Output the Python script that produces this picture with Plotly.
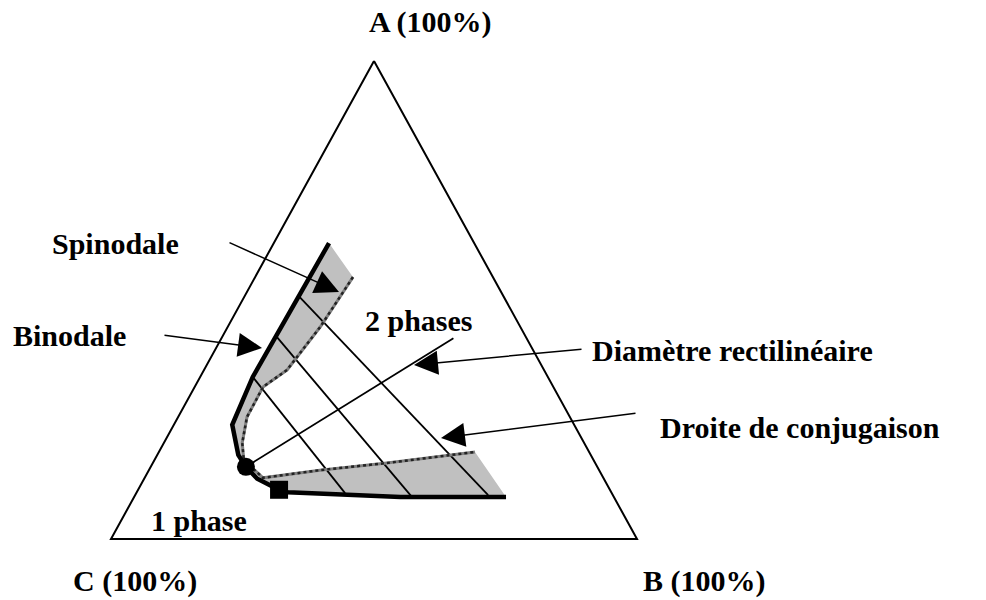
import plotly.graph_objects as go

# ---- Data: ternary compositions in % (A = top, B = bottom right, C = bottom left) ----
vertex_names = ["A (100%)", "B (100%)", "C (100%)"]
triangle_A = [100, 0, 0, 100]
triangle_B = [0, 100, 0, 0]

# Binodal curve (top branch -> plait point -> bottom branch)
binodal_A = [61.9, 50.8, 42.5, 33.9, 23.9, 17.6, 15.1, 12.6, 10.3, 9.8, 9.4, 8.8, 8.8]
binodal_B = [10.5, 10.3, 10.1, 10.0, 11.1, 15.4, 18.1, 21.5, 26.8, 28.7, 36.9, 50.6, 70.7]

# Spinodal curve
spinodal_A = [54.8, 44.4, 35.4, 31.8, 25.5, 20.1, 16.5, 12.8, 14.4, 15.9, 18.2]
spinodal_B = [18.6, 17.6, 15.8, 13.0, 13.1, 14.9, 17.0, 22.5, 32.5, 44.5, 60.1]

# Tie lines (droites de conjugaison)
tie_A_start = [50.8, 42.5, 33.9]
tie_B_start = [10.3, 10.1, 10.0]
tie_A_end = [9.2, 8.8, 9.6]
tie_B_end = [67.1, 52.8, 39.7]

# Rectilinear diameter
diameter_A = [15.1, 42.0]
diameter_B = [18.1, 44.1]

# Plait point (circle) and other marked point (square)
plait_A, plait_B = [15.1], [18.1]
square_A, square_B = [10.3], [26.8]


def to_xy(a_list, b_list):
    xs = [(b + a / 2) / 100 for a, b in zip(a_list, b_list)]
    ys = [a / 100 for a in a_list]
    return xs, ys


W, H = 986, 600
FONT = dict(family="Liberation Serif, Times New Roman, serif", size=30, color="black", weight="bold")

fig = go.Figure()

# grey two-phase band between binodal and spinodal
bx, by = to_xy(binodal_A, binodal_B)
sx, sy = to_xy(spinodal_A, spinodal_B)
fig.add_trace(go.Scatter(x=bx + sx[::-1], y=by + sy[::-1], mode="lines", fill="toself",
                         fillcolor="#c0c0c0", line=dict(width=0), hoverinfo="skip"))

# triangle
tx, ty = to_xy(triangle_A, triangle_B)
fig.add_trace(go.Scatter(x=tx, y=ty, mode="lines", line=dict(color="black", width=2)))

# tie lines
for a0, b0, a1, b1 in zip(tie_A_start, tie_B_start, tie_A_end, tie_B_end):
    lx, ly = to_xy([a0, a1], [b0, b1])
    fig.add_trace(go.Scatter(x=lx, y=ly, mode="lines", line=dict(color="black", width=1.8)))

# diameter
dx, dy = to_xy(diameter_A, diameter_B)
fig.add_trace(go.Scatter(x=dx, y=dy, mode="lines", line=dict(color="black", width=1.8)))

# spinodal (dotted)
fig.add_trace(go.Scatter(x=sx, y=sy, mode="lines", line=dict(color="#808080", width=3)))
fig.add_trace(go.Scatter(x=sx, y=sy, mode="lines", line=dict(color="#222", width=2.5, dash="dot")))

# binodal
fig.add_trace(go.Scatter(x=bx, y=by, mode="lines", line=dict(color="black", width=4.5)))

# markers
px_, py_ = to_xy(plait_A, plait_B)
fig.add_trace(go.Scatter(x=px_, y=py_, mode="markers",
                         marker=dict(symbol="circle", size=18, color="black")))
qx, qy = to_xy(square_A, square_B)
fig.add_trace(go.Scatter(x=qx, y=qy, mode="markers",
                         marker=dict(symbol="square", size=18, color="black")))


def P(x, y):
    return x / W, 1 - y / H


annotations = []
labels = [
    ("A (100%)", 430, 22, "middle"),
    ("B (100%)", 704, 600, "bottom"),
    ("C (100%)", 135, 600, "bottom"),
    ("1 phase", 199, 520, "middle"),
    ("2 phases", 419, 320, "middle"),
    ("Spinodale", 115, 243, "middle"),
    ("Binodale", 69, 335, "middle"),
    ("Diamètre rectilinéaire", 732, 350, "middle"),
    ("Droite de conjugaison", 800, 427, "middle"),
]
for text, x, y, ya in labels:
    xx, yy = P(x, y)
    annotations.append(dict(text=text, x=xx, y=yy, xref="paper", yref="paper",
                            xanchor="center", yanchor=ya, showarrow=False, font=FONT))

arrows = [
    (339, 292, -111, -50),
    (262, 348, -99, -13),
    (414, 365, 169, -16),
    (441, 438, 196, -25),
]
for x, y, ax, ay in arrows:
    xx, yy = P(x, y)
    annotations.append(dict(text="", x=xx, y=yy, xref="paper", yref="paper",
                            ax=ax, ay=ay, showarrow=True, arrowhead=2, arrowsize=3.2,
                            arrowwidth=1.5, arrowcolor="black", standoff=0))

fig.update_layout(
    width=W, height=H,
    margin=dict(l=0, r=0, t=0, b=0),
    paper_bgcolor="white", plot_bgcolor="white",
    showlegend=False,
    xaxis=dict(range=[-111 / 526, (W - 111) / 526], visible=False, fixedrange=True),
    yaxis=dict(range=[(539 - H) / 478, 539 / 478], visible=False, fixedrange=True),
    annotations=annotations,
)

fig.write_html("out.html", config={"displayModeBar": False},
               post_script="document.body.style.margin='0';document.body.style.overflow='hidden';")
